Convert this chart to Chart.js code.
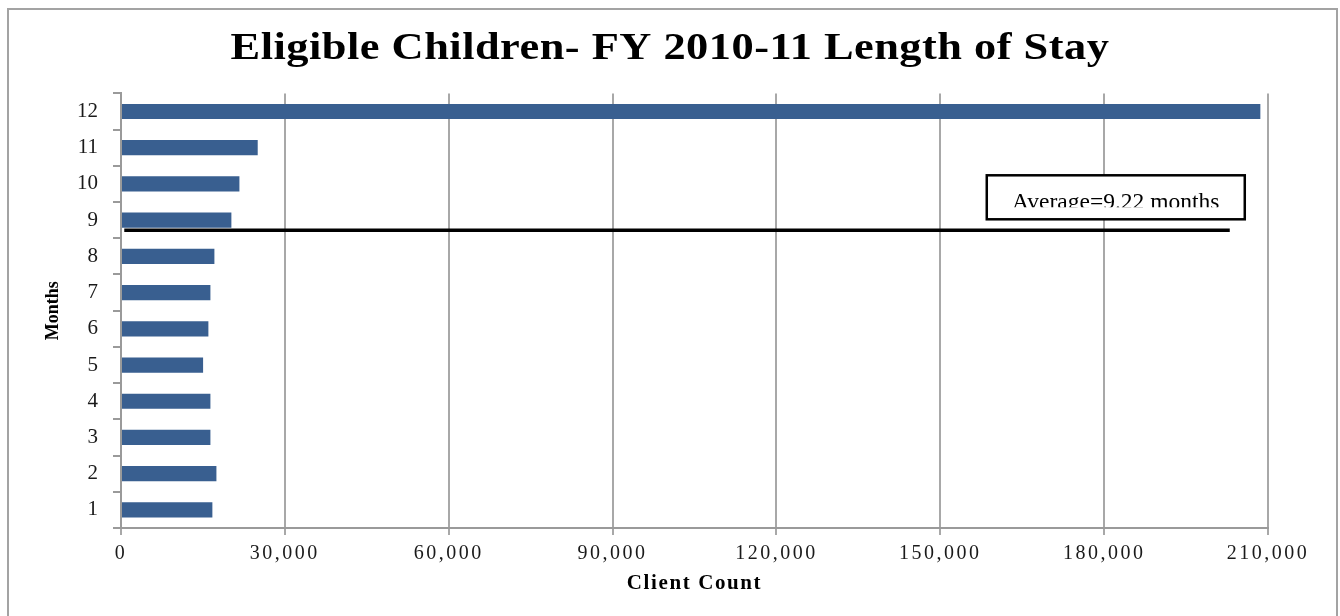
<!DOCTYPE html>
<html>
<head>
<meta charset="utf-8">
<title>Eligible Children- FY 2010-11 Length of Stay</title>
<script src="https://cdn.jsdelivr.net/npm/chart.js@4.4.1/dist/chart.umd.min.js"></script>
<style>
  html, body { margin: 0; padding: 0; background: #ffffff; }
  #wrap { width: 1340px; height: 616px; position: relative; }
</style>
</head>
<body>
<div id="wrap"><canvas id="chart" width="1340" height="616"></canvas></div>
<script>
// Length of stay (months) and number of eligible children in each group
const months = [1, 2, 3, 4, 5, 6, 7, 8, 9, 10, 11, 12];
const clientCounts = [16730, 17470, 16370, 16370, 15030, 16000, 16370, 17100, 20210, 21680, 25030, 208600];
const countTicks = [0, 30000, 60000, 90000, 120000, 150000, 180000, 210000];
const averageMonths = 9.22;

const SERIF = '"Liberation Serif", "Times New Roman", serif';

// White page with the thin grey frame round the chart
const framePlugin = {
  id: 'frame',
  beforeDraw(chart) {
    const ctx = chart.ctx;
    ctx.save();
    ctx.fillStyle = '#ffffff';
    ctx.fillRect(0, 0, chart.width, chart.height);
    ctx.strokeStyle = '#a3a3a3';
    ctx.lineWidth = 2;
    ctx.strokeRect(8, 9, 1329, 630);
    ctx.restore();
  }
};

// Run a draw routine with extra spacing between letters
function withSpacing(obj, method, px) {
  const orig = obj[method];
  obj[method] = function (...args) {
    const ctx = this.ctx;
    ctx.save();
    if ('letterSpacing' in ctx) ctx.letterSpacing = px + 'px';
    orig.apply(this, args);
    ctx.restore();
  };
}

// Run a draw routine with its lettering widened about the box centre
function withWideLetters(obj, method, factor) {
  const orig = obj[method];
  obj[method] = function (...args) {
    const ctx = this.ctx;
    const cx = (this.left + this.right) / 2;
    ctx.save();
    ctx.translate(cx, 0);
    ctx.scale(factor, 1);
    ctx.translate(-cx, 0);
    orig.apply(this, args);
    ctx.restore();
  };
}

// Wide title lettering and spaced-out count axis
const letteringPlugin = {
  id: 'lettering',
  afterLayout(chart) {
    if (chart.__lettered) return;
    withWideLetters(chart.titleBlock, 'draw', 1.2);
    withSpacing(chart.titleBlock, 'draw', 0.4);
    withSpacing(chart.scales.x, 'drawLabels', 2.5);
    withSpacing(chart.scales.x, 'drawTitle', 1.6);
    chart.__lettered = true;
  }
};

// Average length-of-stay line with its boxed label.
// Month m occupies the band [m, m+1) of the month axis.
const averagePlugin = {
  id: 'averageLine',
  afterDatasetsDraw(chart, args, opts) {
    const {ctx} = chart;
    const xs = chart.scales.x;
    const ys = chart.scales.y;
    const y = ys.getPixelForValue(opts.value - months[0] - 0.5);
    const x0 = xs.getPixelForValue(opts.from);
    const x1 = xs.getPixelForValue(opts.to);
    ctx.save();
    ctx.strokeStyle = '#000000';
    ctx.lineWidth = 3.5;
    ctx.beginPath();
    ctx.moveTo(x0, y);
    ctx.lineTo(x1, y);
    ctx.stroke();

    // label box, anchored above the right end of the line
    const bw = 258, bh = 44;
    const bx = x1 + 15 - bw;
    const by = y - 11 - bh;
    ctx.fillStyle = '#ffffff';
    ctx.fillRect(bx, by, bw, bh);
    ctx.lineWidth = 2.5;
    ctx.strokeRect(bx, by, bw, bh);
    ctx.beginPath();
    ctx.rect(bx, by, bw, 32);
    ctx.clip();
    ctx.fillStyle = '#000000';
    ctx.font = '23.5px ' + SERIF;
    ctx.textAlign = 'center';
    ctx.textBaseline = 'alphabetic';
    ctx.fillText(opts.text, bx + bw / 2, by + 34);
    ctx.restore();
  }
};

const ctx = document.getElementById('chart').getContext('2d');
new Chart(ctx, {
  type: 'bar',
  data: {
    labels: months.map(String),
    datasets: [{
      label: 'Client Count',
      data: clientCounts,
      backgroundColor: '#395f90',
      borderWidth: 0,
      categoryPercentage: 1.0,
      barPercentage: 0.42
    }]
  },
  options: {
    indexAxis: 'y',
    responsive: false,
    animation: false,
    layout: { padding: 0 },
    plugins: {
      legend: { display: false },
      tooltip: { enabled: false },
      title: {
        display: true,
        text: 'Eligible Children- FY 2010-11 Length of Stay',
        color: '#000000',
        font: { family: SERIF, size: 37, weight: 'bold' },
        padding: { top: 27, bottom: 22 }
      },
      averageLine: {
        value: averageMonths,
        from: 600,
        to: 203000,
        text: 'Average=' + averageMonths + ' months'
      }
    },
    scales: {
      x: {
        type: 'linear',
        min: countTicks[0],
        max: countTicks[countTicks.length - 1],
        afterBuildTicks(scale) { scale.ticks = countTicks.map(v => ({value: v})); },
        afterFit(scale) { scale.height = 88; scale.paddingLeft = 0; scale.paddingRight = 72; },
        grid: { color: '#a8a8a8', lineWidth: 2, tickLength: 7, drawTicks: true },
        border: { color: '#9a9a9a', width: 2 },
        ticks: {
          color: '#1a1a1a',
          font: { family: SERIF, size: 20 },
          padding: 7,
          maxRotation: 0,
          callback: v => Number(v).toLocaleString('en-US')
        },
        title: {
          display: true,
          text: 'Client Count',
          color: '#000000',
          font: { family: SERIF, size: 21, weight: 'bold' },
          padding: { top: 0, bottom: 20 }
        }
      },
      y: {
        type: 'category',
        reverse: true,
        offset: true,
        afterFit(scale) { scale.width = 121; scale.paddingTop = 0; scale.paddingBottom = 0; },
        grid: { drawOnChartArea: false, color: '#9a9a9a', lineWidth: 2, tickLength: 8, offset: true },
        border: { color: '#9a9a9a', width: 2 },
        ticks: {
          color: '#1a1a1a',
          font: { family: SERIF, size: 21 },
          padding: 15
        },
        title: {
          display: true,
          text: 'Months',
          color: '#000000',
          font: { family: SERIF, size: 18, weight: 'bold' },
          padding: { top: 43, bottom: 0 }
        }
      }
    }
  },
  plugins: [framePlugin, letteringPlugin, averagePlugin]
});
</script>
</body>
</html>
